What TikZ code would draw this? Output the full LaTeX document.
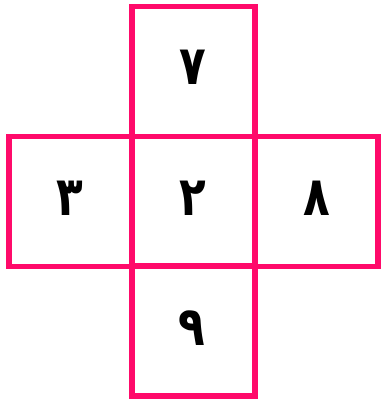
\documentclass[tikz,border=0pt]{standalone}
\usepackage{fontspec}
\newfontfamily\arabicfont[Script=Arabic]{DejaVu Sans}
\TeXXeTstate=1
\definecolor{crosspink}{HTML}{FF0A6A}
\newcommand{\talldigit}[1]{\scalebox{0.95}[1.18]{\beginR #1\endR}}
\begin{document}
\begin{tikzpicture}[x=1pt,y=-1pt,
  cell/.style={draw=crosspink,line width=5.5pt,minimum width=123pt,minimum height=130pt,inner sep=0pt,outer sep=0pt},
  digit/.style={font=\arabicfont\bfseries\fontsize{46}{50}\selectfont,text=black,inner sep=0pt}]
\useasboundingbox (0,0) rectangle (382,402);
\node[cell] (top) at (193.5,71.5) {};
\node[cell] (left) at (70.5,201.5) {};
\node[cell] (right) at (316.5,201.5) {};
\node[cell] (bottom) at (193.5,331) {};
\node[cell] (center) at (193.5,201.5) {};
\node[digit] (d7) at (193,67) {\talldigit{٧}};
\node[digit] (d3) at (70,198) {\talldigit{٣}};
\node[digit] (d2) at (193,198) {\talldigit{٢}};
\node[digit] (d8) at (317,198) {\talldigit{٨}};
\node[digit] (d9) at (192,328) {\talldigit{٩}};
\end{tikzpicture}
\end{document}
